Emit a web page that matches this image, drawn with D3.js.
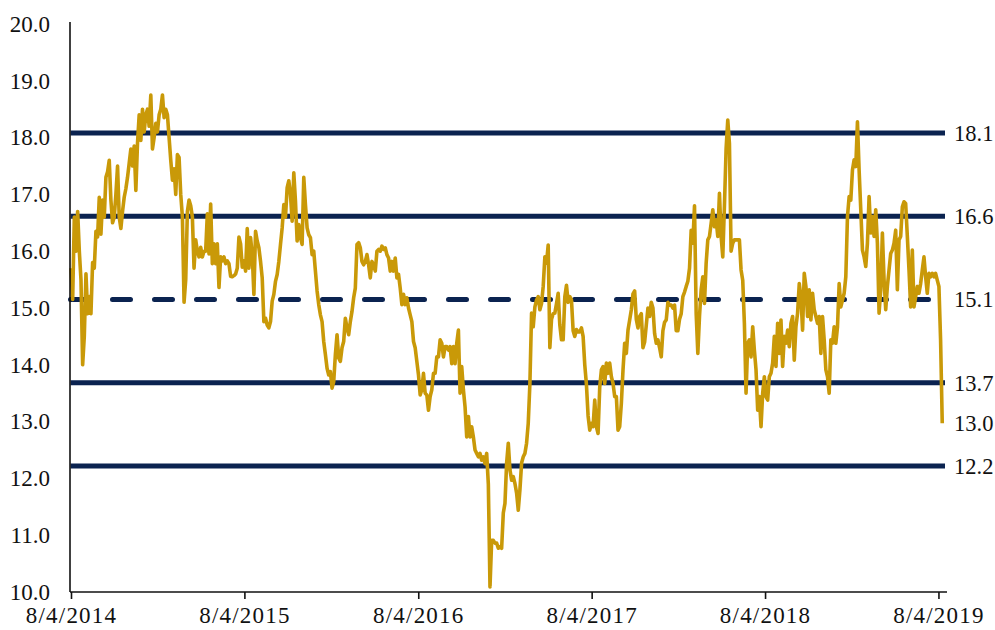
<!DOCTYPE html>
<html><head><meta charset="utf-8">
<script src="https://cdn.jsdelivr.net/npm/d3@7"></script>
<style>body{margin:0;background:#fff} svg{display:block}</style>
</head><body><svg id="chart" width="995" height="630"></svg>
<script>
// ---- data ----
const yTickValues = [10, 11, 12, 13, 14, 15, 16, 17, 18, 19, 20];
const xTickDates = ["2014-08-04", "2015-08-04", "2016-08-04", "2017-08-04", "2018-08-04", "2019-08-04"];
const xTickLabels = ["8/4/2014", "8/4/2015", "8/4/2016", "8/4/2017", "8/4/2018", "8/4/2019"];
const bandValues = [18.08, 16.615, 15.15, 13.685, 12.22];
const bandLabels = ["18.1", "16.6", "15.1", "13.7", "12.2"];
const bandDashed = [false, false, true, false, false];
const seriesStart = "2014-08-04";
const stepHours = 84; // half-week observations

const values2014 = [15.7,15.15,16.6,16.0,16.7,16.0,15.5,14.0,14.5,15.6,
14.9,15.2,14.9,15.8,15.7,16.35,16.25,16.95,16.3,16.9,
16.6,17.3,17.4,17.6,16.9,16.5,16.6,17.0,17.5,16.6,
16.4,16.7,16.95,17.1,17.3,17.55,17.8,17.5,17.85,17.07,
17.9,18.4,17.95,18.5,18.1,18.4,18.5,18.2,18.75,17.8,
18.0,18.25,18.1,18.4,18.5,18.75,18.35,18.5,18.4,18.0,
17.6,17.25,17.45,17.0,17.7,17.65,17.0,16.6,15.1,15.5,
16.7,16.9,16.8,16.6,15.7,16.2,16.0,15.9,16.07,15.9,
16.0,16.0,16.66,15.95,16.83,15.78,16.13,15.78,16.13,15.36,
15.9,15.83,15.9,15.78,15.83,15.78,15.56,15.55,15.57,15.6,
15.7,16.25,16.13,15.72,15.83];
const values2015 = [15.65,16.4,15.7,16.24,15.94,15.24,16.35,16.18,16.06,15.82,
15.53,14.76,14.82,14.7,14.65,14.76,15.12,15.24,15.47,15.59,
15.82,16.12,16.41,16.82,16.6,17.12,17.24,17.0,16.53,17.38,
16.88,16.18,16.47,16.24,16.12,17.3,16.82,16.41,16.29,16.24,
15.94,16.0,15.65,15.3,15.06,14.88,14.76,14.41,14.18,13.94,
13.82,13.88,13.59,13.7,14.18,14.53,14.12,14.06,14.3,14.41,
14.82,14.65,14.53,14.76,14.94,15.18,15.35,16.12,16.15,16.06,
15.82,15.76,15.82,15.94,15.76,15.53,15.82,15.76,15.65,16.0,
16.03,16.0,16.09,16.03,16.06,15.94,15.88,15.65,15.82,15.65,
15.88,15.53,15.59,15.35,15.06,15.24,15.06,15.18,15.0,14.88,
14.76,14.41,14.3,14.06,13.82,13.47];
const values2016 = [13.56,13.85,13.5,13.47,13.2,13.44,13.56,13.85,13.85,14.14,
14.14,14.44,14.38,14.14,14.32,14.32,14.26,14.32,14.02,14.32,
14.02,14.38,14.61,13.5,13.97,13.56,13.26,12.73,13.09,12.73,
12.91,12.73,12.5,12.44,12.38,12.44,12.32,12.38,12.26,12.44,
11.9,10.09,10.91,10.91,10.86,10.86,10.77,10.8,10.77,11.39,
11.56,12.27,12.62,12.15,11.97,12.03,11.91,11.74,11.44,11.8,
12.27,12.38,12.44,12.62,12.97,13.67,14.91,14.67,15.02,15.14,
15.2,14.97,15.08,15.38,15.9,15.79,16.11,14.3,14.8,14.9,
14.91,15.08,15.26,14.7,14.44,14.44,15.2,15.4,15.1,15.2,
15.14,14.6,14.5,14.62,14.58,14.58,14.65,14.5,14.0,13.65,
13.1,12.85];
const values2017 = [12.97,12.91,13.38,12.91,12.79,13.61,13.91,13.97,13.67,14.03,
13.85,14.03,13.79,13.67,13.44,13.44,12.85,12.91,13.32,13.91,
14.38,14.2,14.61,14.79,14.97,15.25,15.3,14.8,14.65,14.85,
14.9,14.3,14.4,14.7,15.0,14.85,15.1,15.0,14.55,14.38,
14.44,14.3,14.14,14.6,14.75,14.79,15.1,15.05,15.05,15.0,
15.05,14.6,14.6,14.8,14.9,15.2,15.28,15.38,15.47,15.7,
16.37,16.14,16.8,14.9,14.2,14.85,15.32,15.55,15.08,15.79,
16.2,16.26,16.49,16.73,16.43,16.55,16.26,17.02,16.26,15.9,
16.8,17.8,18.31,17.9,16.0,16.14,16.2,16.2,16.2,16.2,
15.67,15.49,14.73,13.5,14.38,14.44,14.14,14.67,14.26,13.91,
13.2,13.44,12.91,13.5,13.79];
const values2018 = [13.44,13.38,13.79,13.85,14.03,14.5,13.97,14.73,14.2,14.79,
13.97,14.5,14.38,14.61,14.32,14.73,14.85,14.08,14.67,14.91,
15.43,15.2,14.61,15.61,15.38,14.85,15.32,14.79,15.26,14.97,
14.85,14.73,14.85,14.2,14.85,14.44,13.91,13.79,13.5,14.44,
14.38,14.67,14.38,14.67,15.43,15.02,15.14,15.26,15.55,16.61,
16.96,16.9,17.43,17.61,17.49,18.28,17.43,16.73,16.02,15.9,
15.73,16.14,16.96,16.32,16.61,16.26,16.73,16.14,14.91,15.32,
16.32,15.5,14.97,15.38,15.67,15.96,16.02,16.14,16.37,15.32,
16.2,16.26,16.78,16.87,16.84,16.26,15.67,15.02,16.02,15.02,
15.2,15.38,15.26,15.43,15.67,15.9,15.55,15.26,15.61,15.55,
15.61,15.55,15.61,15.49,15.38,14.44,12.97];

// ---- build ----
const parse = d3.timeParse("%Y-%m-%d");
const allValues = [].concat(values2014, values2015, values2016, values2017, values2018);
const start = parse(seriesStart);
const series = allValues.map((v, i) => ({ date: d3.timeHour.offset(start, i * stepHours), value: v }));

const svg = d3.select("#chart");
const FONT = "'Liberation Serif', 'Times New Roman', serif";
const FS = 23;
const NAVY = "#0b2350";
const GOLD = "#c99908";

const x = d3.scaleTime()
  .domain([parse("2014-08-04"), parse("2019-08-22")])
  .range([71, 947]);
const y = d3.scaleLinear().domain([10, 20]).range([592, 24]);

// band lines
const bands = bandValues.map((v, i) => ({ v, label: bandLabels[i], dashed: bandDashed[i] }));
svg.append("g").selectAll("line").data(bands).join("line")
  .attr("x1", 70.5).attr("x2", 945)
  .attr("y1", d => y(d.v)).attr("y2", d => y(d.v))
  .attr("stroke", NAVY).attr("stroke-width", 5)
  .attr("stroke-linecap", d => d.dashed ? "round" : "butt")
  .attr("stroke-dasharray", d => d.dashed ? "18,24" : null);

// series line
const line = d3.line().x(d => x(d.date)).y(d => y(d.value));
svg.append("path").datum(series)
  .attr("d", line).attr("fill", "none")
  .attr("stroke", GOLD).attr("stroke-width", 3.6)
  .attr("stroke-linejoin", "round");

// axes
const yAxis = d3.axisLeft(y).tickValues(yTickValues).tickFormat(d3.format(".1f")).tickSize(0).tickPadding(20);
const gy = svg.append("g").attr("transform", "translate(70,0)").call(yAxis);
gy.select(".domain").attr("stroke", "#111").attr("stroke-width", 1.6).attr("d", "M0,22V592");
gy.selectAll("text").attr("font-family", FONT).attr("font-size", FS).attr("fill", "#111");

const xAxis = d3.axisBottom(x).tickValues(xTickDates.map(parse))
  .tickFormat((d, i) => xTickLabels[i]).tickSize(7).tickSizeOuter(0).tickPadding(8);
const gx = svg.append("g").attr("transform", "translate(0,592)").call(xAxis);
gx.select(".domain").attr("stroke", "#111").attr("stroke-width", 1.6).attr("d", "M70,0H947");
gx.selectAll(".tick line").attr("stroke", "#111").attr("stroke-width", 1.6);
gx.selectAll("text").attr("font-family", FONT).attr("font-size", FS).attr("fill", "#111")
  .attr("letter-spacing", 1.2);

// right labels
const last = series[series.length - 1];
const rightLabels = bands.map(b => ({ v: b.v, t: b.label })).concat([{ v: last.value, t: d3.format(".1f")(last.value) }]);
svg.append("g").selectAll("text").data(rightLabels).join("text")
  .attr("x", 954).attr("y", d => y(d.v)).attr("dy", "0.35em")
  .attr("font-family", FONT).attr("font-size", 22.5).attr("fill", "#111")
  .text(d => d.t);
</script></body></html>
